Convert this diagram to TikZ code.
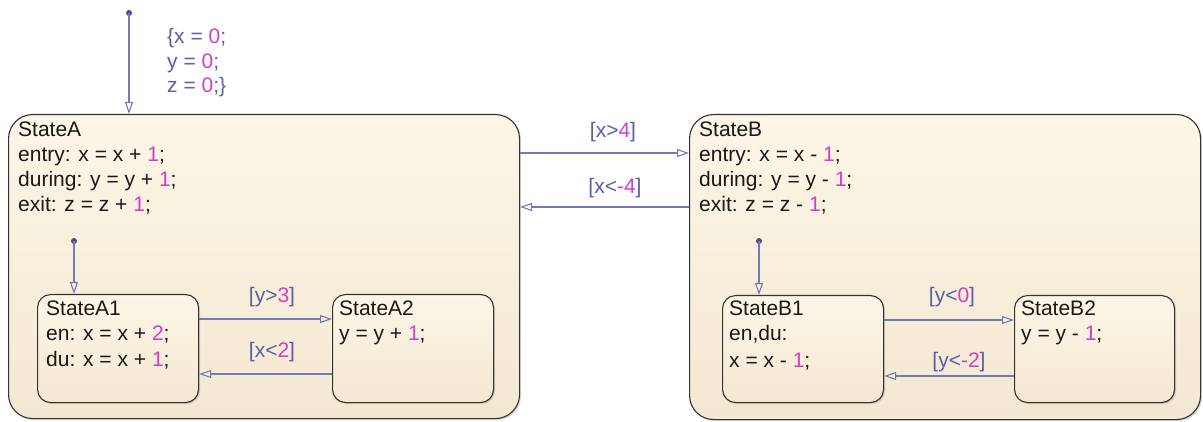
\documentclass[tikz,border=0pt]{standalone}
\usepackage{fontspec}
\setmainfont{Liberation Sans}
\usetikzlibrary{arrows.meta,shadows}
\definecolor{topc}{HTML}{FDF6E7}
\definecolor{botc}{HTML}{F3E8D1}
\definecolor{tc}{HTML}{5B5FA8}
\definecolor{lc}{HTML}{7479BA}
\definecolor{nc}{HTML}{D03FC8}
\definecolor{dc}{HTML}{474C9A}
\newcommand\nm[1]{\textcolor{nc}{#1}}
\begin{document}
\begin{tikzpicture}[x=1pt,y=-1pt,
 state/.style={draw=black!80, line width=1.1pt, top color=topc, bottom color=botc, anchor=north west, inner sep=0pt, drop shadow={shadow xshift=1.5pt, shadow yshift=-1.5pt, opacity=0.3}},
 big/.style={state, rounded corners=24pt},
 small/.style={state, rounded corners=13pt},
 txt/.style={anchor=base west, inner sep=0pt, font=\fontsize{21}{25}\selectfont, text=black!90},
 lbl/.style={anchor=base, inner sep=0pt, font=\fontsize{21}{25}\selectfont, text=tc},
 trans/.style={draw=lc, line width=1.1pt, -{Triangle[open, length=12pt, width=8pt]}},
 dot/.style={circle, fill=dc, inner sep=0pt, minimum size=6pt}
]
\useasboundingbox[fill=white] (0,0) rectangle (1203,422);

% outer states
\node[big, minimum width=511pt, minimum height=304pt] (A) at (8,114) {};
\node[big, minimum width=511pt, minimum height=305pt] (B) at (689,114) {};
% inner states
\node[small, minimum width=161pt, minimum height=108pt] (A1) at (37,294) {};
\node[small, minimum width=161pt, minimum height=108pt] (A2) at (332,294) {};
\node[small, minimum width=161pt, minimum height=107pt] (B1) at (722,295) {};
\node[small, minimum width=160pt, minimum height=107pt] (B2) at (1014,295) {};

% texts StateA
\node[txt] (At1) at (18,137) {StateA};
\node[txt] (At2) at (18,162) {entry: x = x + \nm{1};};
\node[txt] (At3) at (18,187) {during: y = y + \nm{1};};
\node[txt] (At4) at (18,212) {exit: z = z + \nm{1};};
% StateB
\node[txt] (Bt1) at (699,137) {StateB};
\node[txt] (Bt2) at (699,162) {entry: x = x - \nm{1};};
\node[txt] (Bt3) at (699,187) {during: y = y - \nm{1};};
\node[txt] (Bt4) at (699,212) {exit: z = z - \nm{1};};
% A1, A2
\node[txt] (A1t1) at (46,316) {StateA1};
\node[txt] (A1t2) at (46,341) {en: x = x + \nm{2};};
\node[txt] (A1t3) at (46,366) {du: x = x + \nm{1};};
\node[txt] (A2t1) at (339,316) {StateA2};
\node[txt] (A2t2) at (339,341) {y = y + \nm{1};};
% B1, B2
\node[txt] (B1t1) at (729,316) {StateB1};
\node[txt] (B1t2) at (729,341) {en,du:};
\node[txt] (B1t3) at (729,367) {x = x - \nm{1};};
\node[txt] (B2t1) at (1021,316) {StateB2};
\node[txt] (B2t2) at (1021,341) {y = y - \nm{1};};

% default transitions
\node[dot] (i0) at (129,13) {};
\draw[trans] (i0.center) -- (i0 |- A.north);
\node[txt, text=tc] (il1) at (167,44) {\{x = \nm{0};};
\node[txt, text=tc] (il2) at (167,68.5) {y = \nm{0};};
\node[txt, text=tc] (il3) at (167,93) {z = \nm{0};\}};

\node[dot] (iA) at (74,241) {};
\draw[trans] (iA.center) -- (iA |- A1.north);
\node[dot] (iB) at (759,241) {};
\draw[trans] (iB.center) -- (iB |- B1.north);

% outer transitions
\coordinate (ab) at (0,153);
\coordinate (ba) at (0,207);
\draw[trans] (A.east |- ab) -- (B.west |- ab);
\draw[trans] (B.west |- ba) -- (A.east |- ba);
\node[lbl] (l1) at (613,138) {[x>\nm{4}]};
\node[lbl] (l2) at (615,194) {[x<\nm{-4}]};

% inner A transitions
\coordinate (a12) at (0,319);
\coordinate (a21) at (0,374);
\draw[trans] (A1.east |- a12) -- (A2.west |- a12);
\draw[trans] (A2.west |- a21) -- (A1.east |- a21);
\node[lbl] (l3) at (272,303) {[y>\nm{3}]};
\node[lbl] (l4) at (272,357) {[x<\nm{2}]};

% inner B transitions
\coordinate (b12) at (0,320);
\coordinate (b21) at (0,376);
\draw[trans] (B1.east |- b12) -- (B2.west |- b12);
\draw[trans] (B2.west |- b21) -- (B1.east |- b21);
\node[lbl] (l5) at (952,303) {[y<\nm{0}]};
\node[lbl] (l6) at (959,367) {[y<\nm{-2}]};
\end{tikzpicture}
\end{document}
